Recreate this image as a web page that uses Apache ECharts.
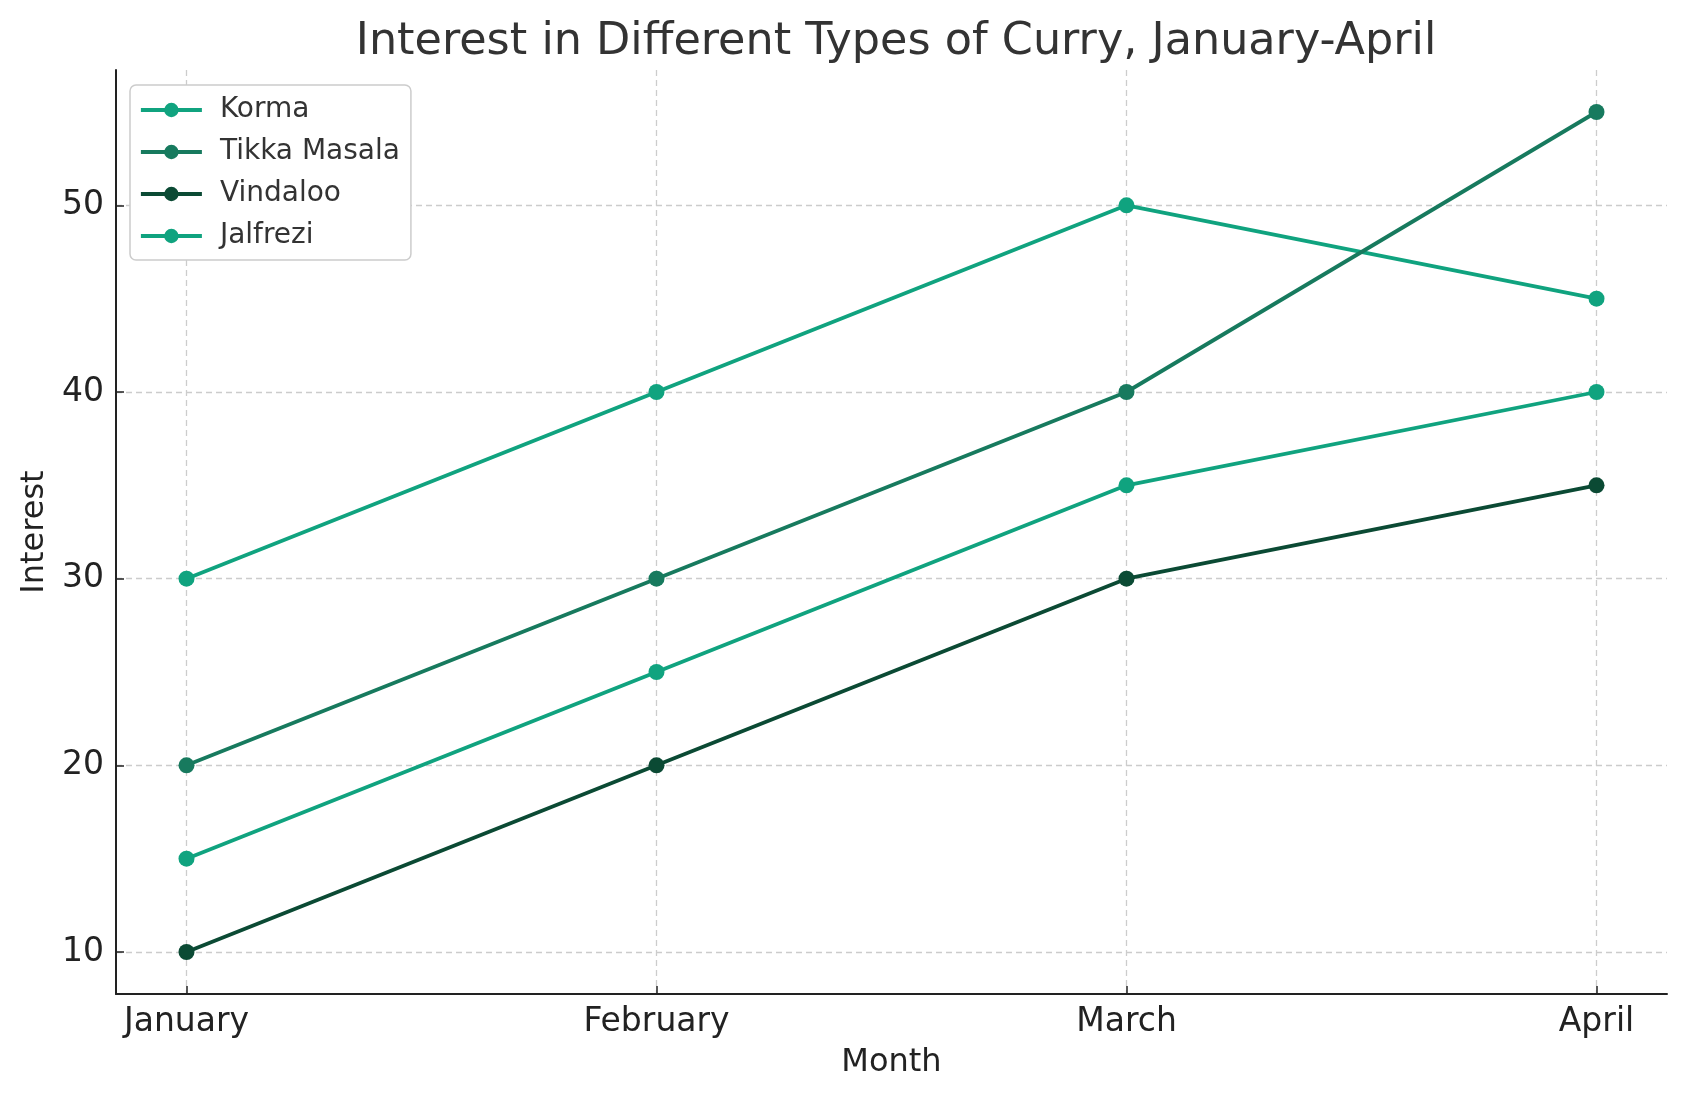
<!DOCTYPE html>
<html>
<head>
<meta charset="utf-8">
<script src="https://cdn.jsdelivr.net/npm/echarts@6/dist/echarts.min.js"></script>
<style>
  html, body { margin: 0; padding: 0; background: #fff; }
  #chart { width: 1686px; height: 1101px; }
</style>
</head>
<body>
<div id="chart"></div>
<script>
// data
var months = ['January', 'February', 'March', 'April'];
var korma = [30, 40, 50, 45];
var tikkaMasala = [20, 30, 40, 55];
var vindaloo = [10, 20, 30, 35];
var jalfrezi = [15, 25, 35, 40];
var yTicks = [10, 20, 30, 40, 50];

var font = 'DejaVu Sans';
var xTicks = months.map(function (m, i) { return i; });

function pairs(vals) {
  return vals.map(function (v, i) { return [i, v]; });
}

function lineSeries(name, vals, color) {
  return {
    name: name,
    type: 'line',
    data: pairs(vals),
    symbol: 'circle',
    symbolSize: 16,
    lineStyle: { color: color, width: 3.8 },
    itemStyle: { color: color },
    emphasis: { disabled: true },
    animation: false
  };
}

var myChart = echarts.init(document.getElementById('chart'));
var option = {
  backgroundColor: '#ffffff',
  title: {
    text: 'Interest in Different Types of Curry, January-April',
    left: 891,
    textAlign: 'center',
    top: 15,
    textStyle: { fontFamily: font, fontSize: 44.5, fontWeight: 'normal', color: '#333333' }
  },
  legend: {
    orient: 'vertical',
    left: 130,
    top: 85,
    padding: [11, 11, 10, 9],
    itemGap: 14,
    itemWidth: 61,
    itemHeight: 18,
    backgroundColor: '#ffffff',
    borderColor: '#cccccc',
    borderWidth: 1.5,
    borderRadius: 6,
    lineStyle: { width: 3.8 },
    textStyle: { fontFamily: font, fontSize: 28, color: '#333333', padding: [0, 0, 0, 13] },
    data: ['Korma', 'Tikka Masala', 'Vindaloo', 'Jalfrezi']
  },
  grid: { left: 116, right: 19, top: 70, bottom: 107, containLabel: false },
  xAxis: {
    type: 'value',
    min: -0.15,
    max: 3.15,
    name: 'Month',
    nameLocation: 'middle',
    nameGap: 53,
    nameTextStyle: { fontFamily: font, fontSize: 32, color: '#222222' },
    axisLine: { show: true, onZero: false, lineStyle: { color: '#222222', width: 2 } },
    axisTick: { show: true, inside: true, length: 8, customValues: xTicks, lineStyle: { color: '#222222', width: 1.5 } },
    axisLabel: {
      customValues: xTicks,
      margin: 12,
      fontFamily: font, fontSize: 33, color: '#222222',
      formatter: function (v) { return months[Math.round(v)]; }
    },
    splitLine: { show: true, lineStyle: { color: '#cccccc', width: 1.3, type: [6, 4] } }
  },
  yAxis: {
    type: 'value',
    min: 7.75,
    max: 57.25,
    name: 'Interest',
    nameLocation: 'middle',
    nameGap: 55,
    nameRotate: 90,
    nameTextStyle: { fontFamily: font, fontSize: 32, color: '#222222' },
    axisLine: { show: true, onZero: false, lineStyle: { color: '#222222', width: 2 } },
    axisTick: { show: true, inside: true, length: 8, customValues: yTicks, lineStyle: { color: '#222222', width: 1.5 } },
    axisLabel: {
      customValues: yTicks,
      margin: 12,
      fontFamily: font, fontSize: 33, color: '#222222'
    },
    splitLine: { show: true, lineStyle: { color: '#cccccc', width: 1.3, type: [6, 4] } }
  },
  series: [
    lineSeries('Korma', korma, '#10a37f'),
    lineSeries('Tikka Masala', tikkaMasala, '#177a5e'),
    lineSeries('Vindaloo', vindaloo, '#0b4a34'),
    lineSeries('Jalfrezi', jalfrezi, '#10a37f')
  ],
  animation: false
};
myChart.setOption(option);
</script>
</body>
</html>
